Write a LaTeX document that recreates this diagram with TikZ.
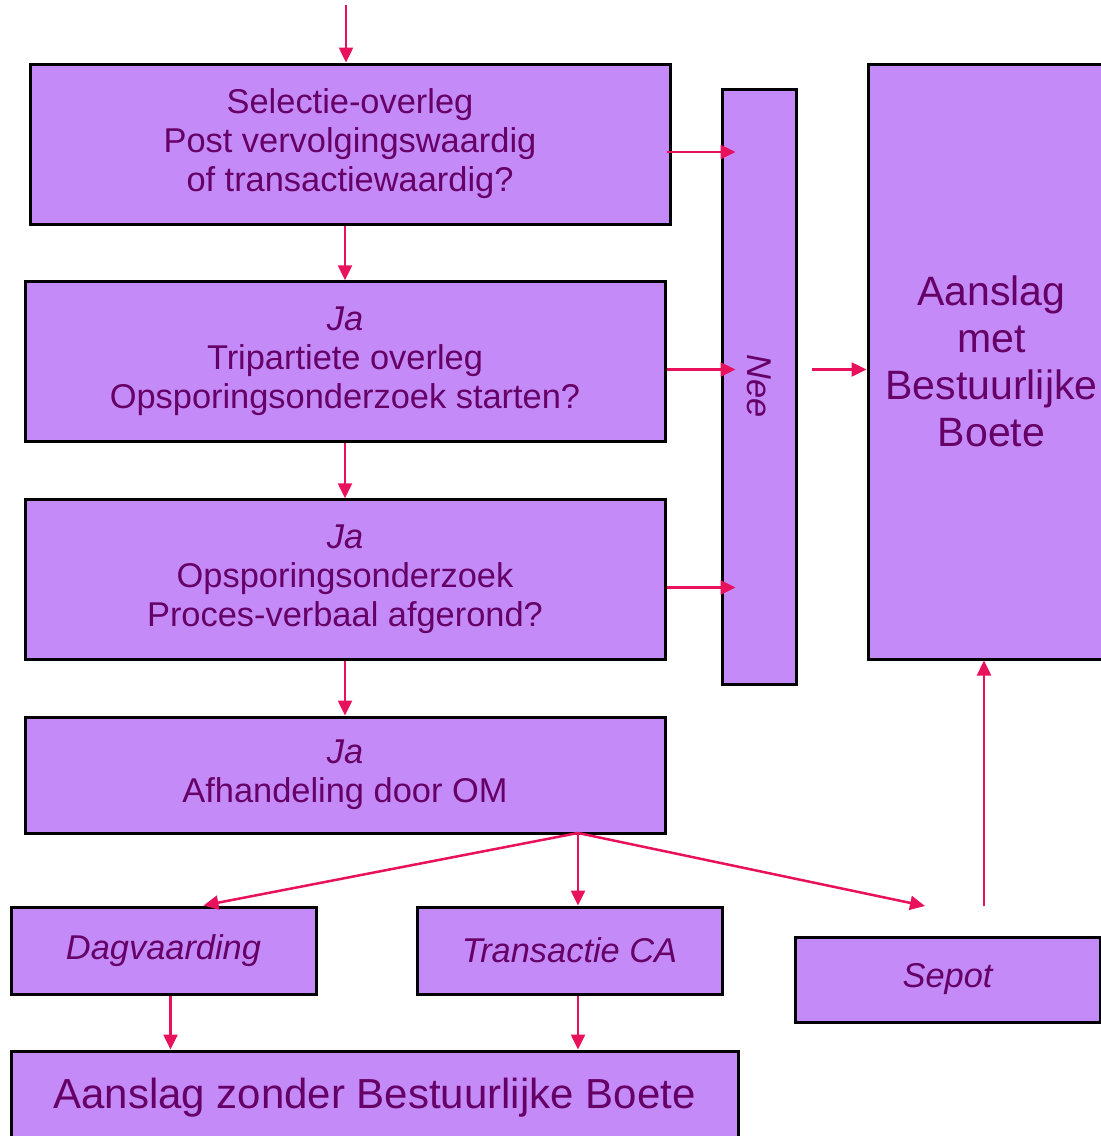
\documentclass[tikz,border=0pt]{standalone}
\usepackage{fontspec}
\setmainfont{Liberation Sans}
\usetikzlibrary{arrows.meta, calc}
\definecolor{vulling}{HTML}{C48AF8}
\definecolor{tekst}{HTML}{660066}
\definecolor{pijlkleur}{HTML}{E8115B}
\tikzstyle{stap}=[rectangle, draw=black, line width=1.5pt, fill=vulling, text=tekst, align=center, inner sep=0pt, font=\fontsize{17.2}{19.5}\selectfont]
\tikzstyle{pijl}=[draw=pijlkleur, line width=1.25pt, -{Triangle[length=7.5pt,width=7pt]}]
\newcommand{\stap}{\node[stap]}

\begin{document}
\begin{tikzpicture}[x=0.5pt, y=-0.5pt]
                    \useasboundingbox (0,0) rectangle (1101,1136);
                    \stap (b1) at (350,144) [minimum width=320pt, minimum height=80pt] {Selectie-overleg\\Post vervolgingswaardig\\of transactiewaardig?};
                    \stap (b2) at (345,361.5) [minimum width=320pt, minimum height=79.75pt] {\textit{Ja}\\Tripartiete overleg\\Opsporingsonderzoek starten?};
                    \stap (b3) at (345,579.5) [minimum width=320pt, minimum height=79.75pt] {\textit{Ja}\\Opsporingsonderzoek\\Proces-verbaal afgerond?};
                    \stap (b4) at (345,775) [minimum width=320pt, minimum height=58pt] {\textit{Ja}\\Afhandeling door OM};
                    \stap (nee) at (759,386.5) [minimum width=37pt, minimum height=297.5pt] {\rotatebox{-90}{\itshape Nee}};
                    \stap (aanslag) at (991.5,361.5) [minimum width=123.5pt, minimum height=297.5pt, font=\fontsize{20.5}{23.5}\selectfont] {Aanslag\\met\\Bestuurlijke\\Boete};
                    \stap (dag) at (163.5,950.5) [minimum width=152.5pt, minimum height=43.5pt, font=\fontsize{17.2}{19.5}\selectfont\itshape] {Dagvaarding};
                    \stap (trans) at (569.5,950.5) [minimum width=152.5pt, minimum height=43.5pt, font=\fontsize{17.2}{19.5}\selectfont\itshape] {Transactie CA};
                    \stap (sepot) at (947.5,979.5) [minimum width=152.5pt, minimum height=42.5pt, font=\fontsize{17.2}{19.5}\selectfont\itshape] {Sepot};
                    \stap (onder) at (374.5,1098) [minimum width=363.5pt, minimum height=47pt, font=\fontsize{21}{24}\selectfont] {Aanslag zonder Bestuurlijke Boete};
                    \coordinate (start) at (346,5);
                    \coordinate (vork) at (578,833);
                    \coordinate (sepotpunt) at (925,906);
                    \coordinate (terug) at (984,906);
                    \coordinate (d1) at ($(dag.south)+(3.5pt,0)$);
                    \coordinate (t1) at ($(trans.south)+(4.25pt,0)$);
                    \draw[pijl] (start) -- (start |- b1.north);
                    \draw[pijl] (b2.north |- b1.south) -- (b2.north);
                    \draw[pijl] (b2.south) -- (b3.north);
                    \draw[pijl] (b3.south) -- (b4.north);
                    \draw[pijl, shorten >=-7.5pt] ($(b1.east)+(-2.5pt,-4pt)$) -- ($(nee.west |- b1.east)+(0,-4pt)$);
                    \draw[pijl, shorten >=-7.5pt] ($(b2.east)+(0,-4pt)$) -- ($(nee.west |- b2.east)+(0,-4pt)$);
                    \draw[pijl, shorten >=-7.5pt] ($(b3.east)+(0,-4pt)$) -- ($(nee.west |- b3.east)+(0,-4pt)$);
                    \draw[pijl] ($(nee.east |- b2.east)+(7pt,-4pt)$) -- ($(aanslag.west |- b2.east)+(0,-4pt)$);
                    \draw[pijl] (vork) -- ($(dag.north)+(20pt,0)$);
                    \draw[pijl] (vork) -- (vork |- trans.north);
                    \draw[pijl] (vork) -- (sepotpunt);
                    \draw[pijl] (terug) -- (terug |- aanslag.south);
                    \draw[pijl] (d1) -- (d1 |- onder.north);
                    \draw[pijl] (t1) -- (t1 |- onder.north);
                \end{tikzpicture}
\end{document}
